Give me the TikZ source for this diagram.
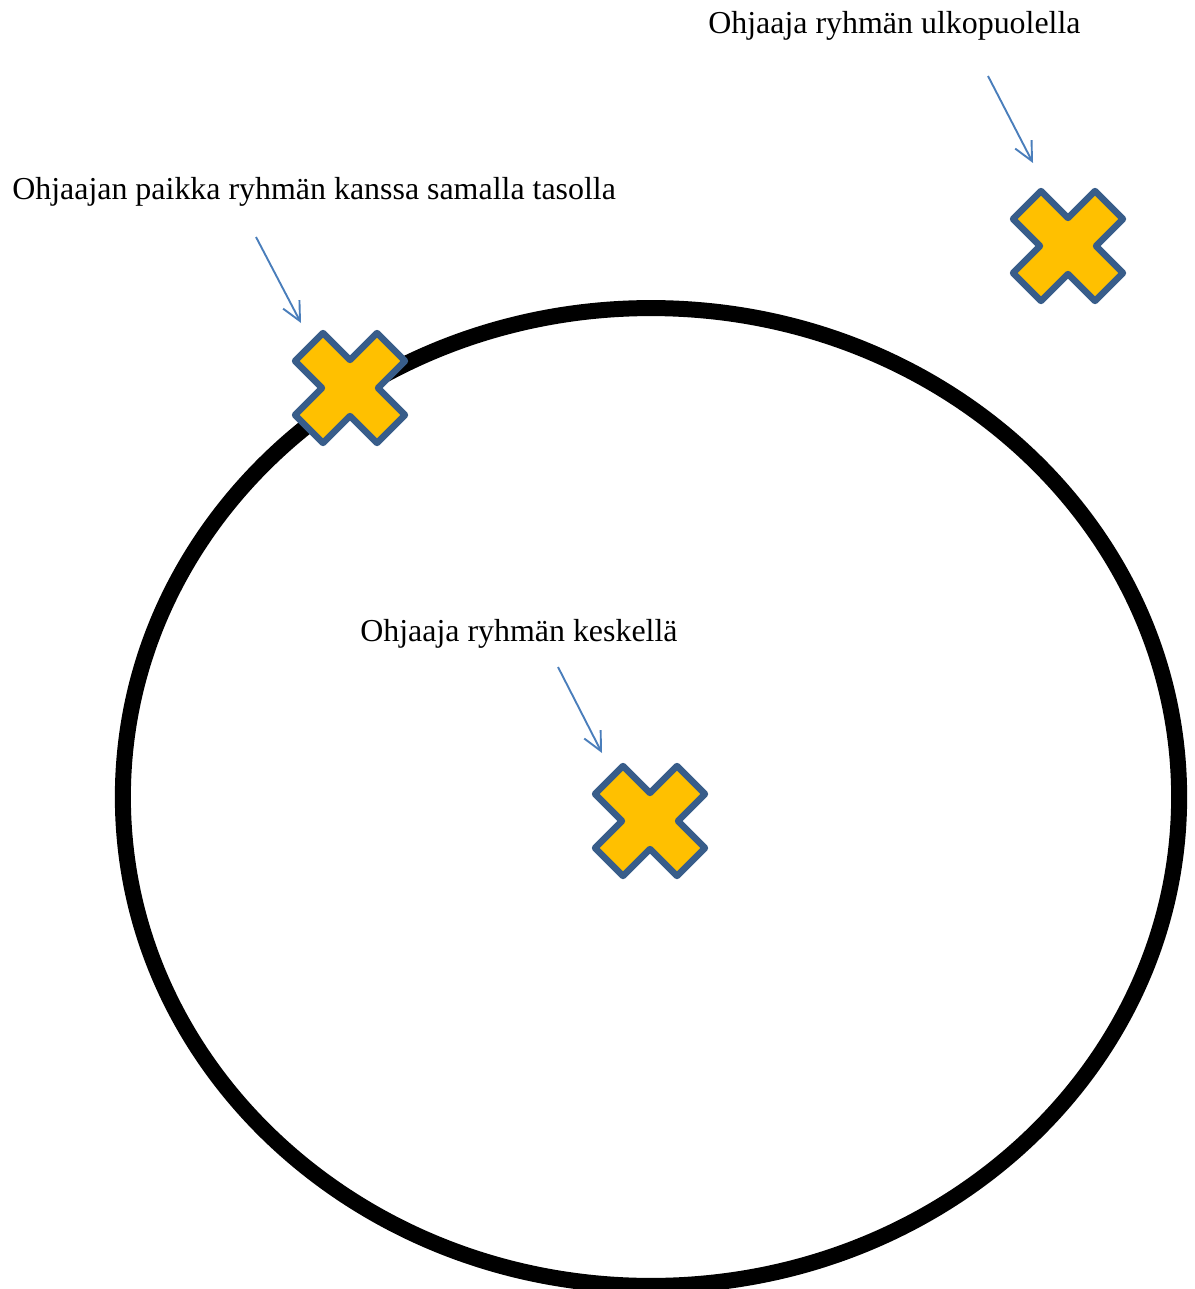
\documentclass[tikz,border=0pt]{standalone}
\usepackage{fontspec}
\setmainfont{Liberation Serif}
\usetikzlibrary{arrows.meta}
\definecolor{ristikelta}{HTML}{FFC000}
\definecolor{ristireuna}{HTML}{385D8A}
\definecolor{nuolisini}{HTML}{4A7EBB}
\tikzset{
  teksti/.style={anchor=base west, inner sep=0pt, font=\fontsize{22.7pt}{27pt}\selectfont},
  nuoli/.style={draw=nuolisini, line width=1.35pt, -{Straight Barb[length=0.47cm, width=0.46cm]}},
  risti/.pic={
    \draw[fill=ristikelta, draw=ristireuna, line width=0.16cm, line join=round]
      (0,-28) -- (27,-55) -- (55,-27) -- (28,0) -- (55,27) -- (27,55) -- (0,28)
      -- (-27,55) -- (-55,27) -- (-28,0) -- (-55,-27) -- (-27,-55) -- cycle;
  }
}

\begin{document}
\begin{tikzpicture}[x=0.025cm, y=-0.025cm]
  \useasboundingbox (0,0) rectangle (1195,1289);
  \draw[line width=0.4cm] (651,797) ellipse [x radius=13.2cm, y radius=12.22cm];
  \pic at (1068,246) {risti};
  \pic at (350,388) {risti};
  \pic at (650,821) {risti};
  \node[teksti] (ulko) at (708,33) {Ohjaaja ryhmän ulkopuolella};
  \node[teksti] (reuna) at (12,199) {Ohjaajan paikka ryhmän kanssa samalla tasolla};
  \node[teksti] (keski) at (360,641) {Ohjaaja ryhmän keskellä};
  \coordinate (ulkoalku) at (988,76);
  \coordinate (ulkokarki) at (1033,163);
  \coordinate (reunaalku) at (256,237);
  \coordinate (reunakarki) at (301,323);
  \coordinate (keskialku) at (558,667);
  \coordinate (keskikarki) at (602,753);
  \draw[nuoli] (ulkoalku) -- (ulkokarki);
  \draw[nuoli] (reunaalku) -- (reunakarki);
  \draw[nuoli] (keskialku) -- (keskikarki);
\end{tikzpicture}
\end{document}
